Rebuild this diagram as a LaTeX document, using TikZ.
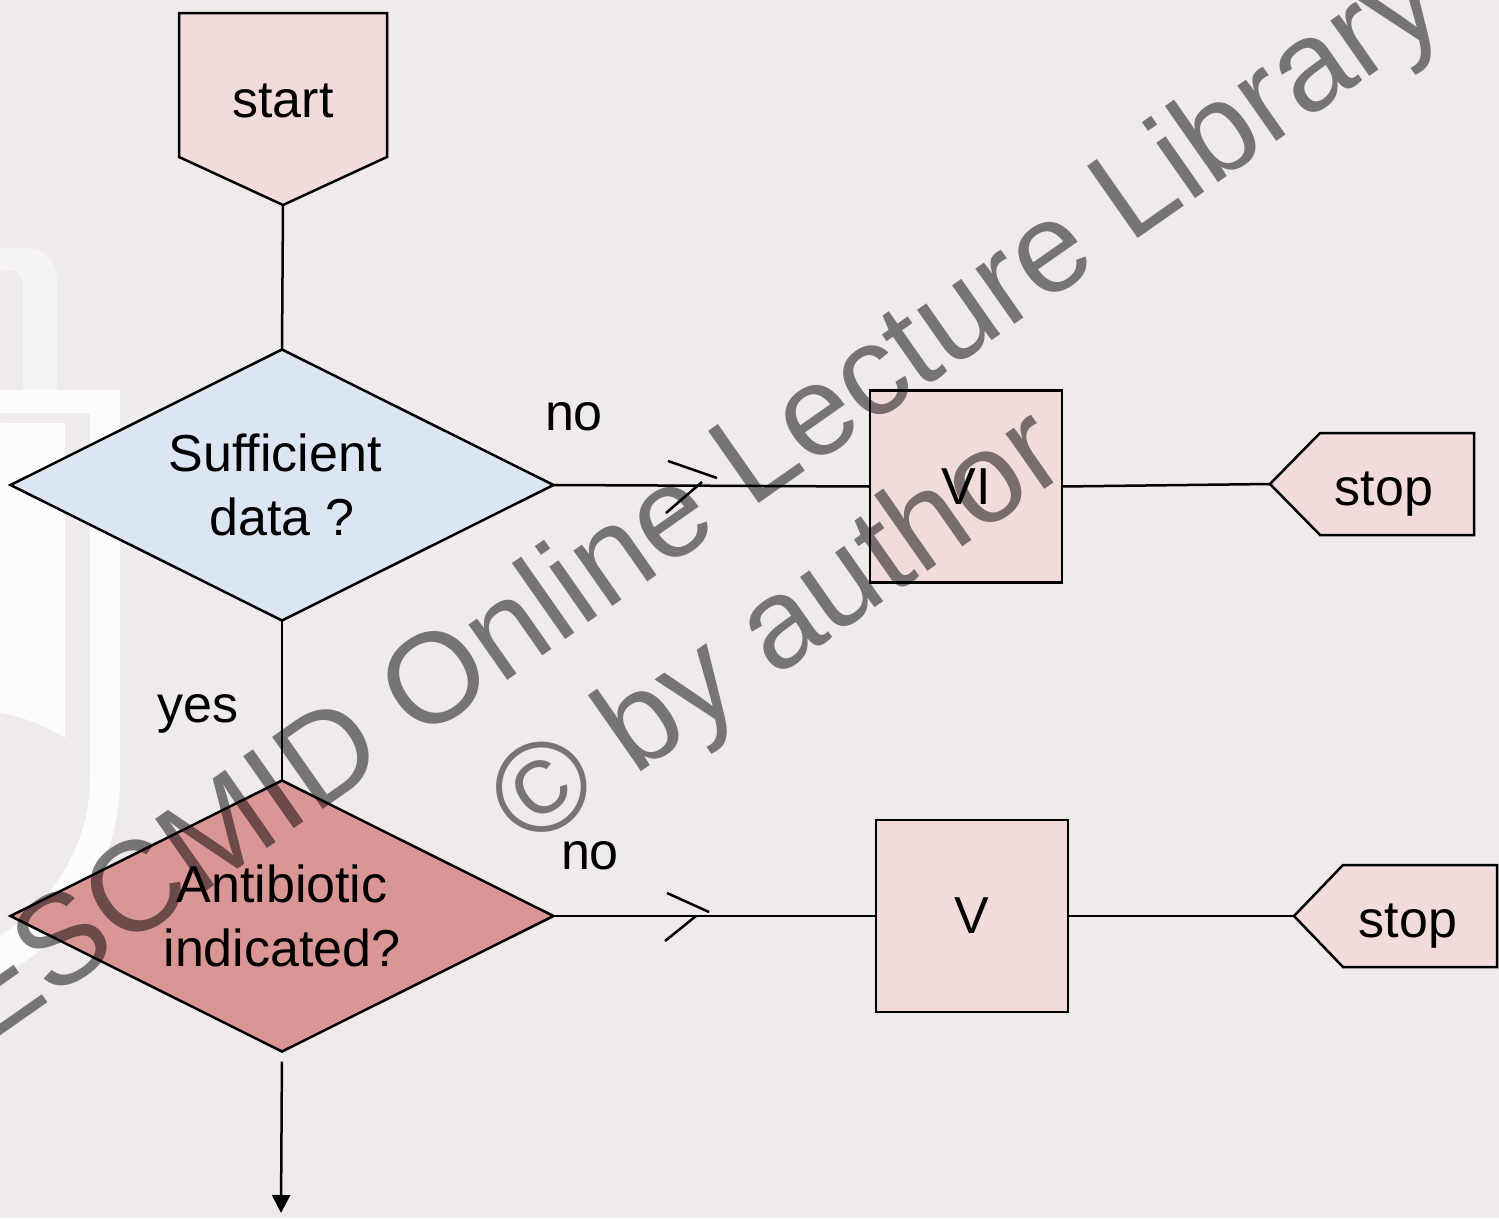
\documentclass[tikz,border=0pt]{standalone}
\usepackage{fontspec}
\setmainfont{Liberation Sans}
\usetikzlibrary{shapes.geometric,arrows.meta}

\definecolor{bgcol}{RGB}{239,235,234}
\definecolor{boxpink}{RGB}{242,220,219}
\definecolor{qblue}{RGB}{220,230,242}
\definecolor{qred}{RGB}{217,150,148}

\begin{document}
\begin{tikzpicture}[x=1pt,y=-1pt,
  every node/.style={font=\fontsize{52}{64}\selectfont, inner sep=0pt, outer sep=0pt},
  flow/.style={line width=2.5pt, line join=miter},
  decision/.style={flow, draw, diamond, aspect=2, minimum width=543pt, minimum height=271pt, align=center},
  stepbox/.style={flow, draw, fill=boxpink, rectangle, minimum width=192pt, minimum height=192pt},
  terminal/.style={flow, draw, fill=boxpink},
  link/.style={line width=2.5pt},
  tick/.style={line width=2.5pt},
  lbl/.style={anchor=base},
  ghost/.style={fill=white, even odd rule},
  wmark/.style={font=\fontsize{128}{128}\selectfont, text=black, text opacity=0.5, anchor=base west, rotate=35}
]
% canvas
\useasboundingbox (0,0) rectangle (1499,1218);
\clip (0,0) rectangle (1499,1218);
\fill[bgcol] (0,0) rectangle (1499,1218);

% faint logo in the left margin
\fill[ghost, opacity=0.45]
  (0,248) -- (27,248) arc[start angle=-90, end angle=0, radius=30] -- (57,390) -- (0,390) -- cycle
  (0,270) -- (10,270) arc[start angle=-90, end angle=0, radius=13] -- (23,390) -- (0,390) -- cycle;
\fill[ghost, opacity=0.85]
  (0,390) -- (120,390) -- (120,780) .. controls (120,870) and (60,950) .. (0,975) -- cycle
  (0,413) -- (90,413) -- (90,780) .. controls (90,850) and (45,910) .. (0,935) -- cycle;
\fill[ghost, opacity=0.85]
  (0,423) -- (65,423) -- (65,738) .. controls (45,725) and (20,716) .. (0,713) -- cycle;

% start terminal
\draw[terminal] (179,13) -- (387,13) -- (387,157) -- (283,205) coordinate (starttip) -- (179,157) -- cycle;
\node[lbl] (starttext) at (283,117) {start};

% decisions
\node[decision, fill=qblue] (d1) at (282,485) {Sufficient\hspace*{14pt}\\data ?};
\node[decision, fill=qred] (d2) at (282,916) {Antibiotic\\indicated?};

% outcome boxes
\node[stepbox] (vi) at (966,486.5) {VI};
\node[stepbox] (v) at (972,916) {V};

% stop terminals
\draw[terminal] (1270,484) coordinate (stop1tip) -- (1320,433) -- (1474,433) -- (1474,535) -- (1320,535) -- cycle;
\node[lbl] (stop1text) at (1384,505) {stop};
\draw[terminal] (1294,916) coordinate (stop2tip) -- (1343,865) -- (1497,865) -- (1497,967) -- (1343,967) -- cycle;
\node[lbl] (stop2text) at (1408,937) {stop};

% connectors
\coordinate (exitpt) at (281,1213);
\draw[link] (starttip) -- (d1.north);
\draw[link] (d1.east) -- (vi.west);
\draw[link] (vi.east) -- (stop1tip);
\draw[link] (d1.south) -- (d2.north);
\draw[link] (d2.east) -- (v.west);
\draw[link] (v.east) -- (stop2tip);
\draw[link, -{Triangle[width=18pt,length=18pt]}, shorten <=10pt] (d2.south) -- (exitpt);

% direction ticks on the "no" branches
\draw[tick] (668,461) -- (717,478);
\draw[tick] (666,513) -- (702,482);
\draw[tick] (667,893) -- (709,912);
\draw[tick] (665,941) -- (696,916);

% branch labels
\node[lbl] (no1) at (574,430) {no};
\node[lbl] (no2) at (590,869) {no};
\node[lbl] (yes1) at (198,722) {yes};

% watermark
\node[wmark] (wm1) at (-18,1048) {ESCMID Online Lecture Library};
\node[wmark] (wm2) at (528.5,850.7) {\char"00A9{} by author};
\end{tikzpicture}
\end{document}
